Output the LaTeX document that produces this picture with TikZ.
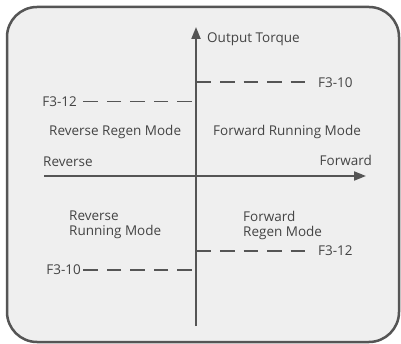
\documentclass[tikz,border=0pt]{standalone}
\usepackage{fontspec}
\setmainfont{Open Sans}
\usetikzlibrary{arrows.meta}
\definecolor{boxline}{HTML}{555555}
\definecolor{boxfill}{HTML}{EFEFEF}
\definecolor{txt}{HTML}{444444}
\begin{document}
\begin{tikzpicture}[x=1pt,y=-1pt,
  lbl/.style={text=txt,font=\fontsize{13.5}{15}\selectfont,inner sep=0pt},
  axis/.style={draw=boxline,line width=2pt,-{Triangle[length=12pt,width=9pt]}},
  dline/.style={draw=boxline,line width=1.8pt,dash pattern=on 14.5pt off 9pt}]
\useasboundingbox (0,0) rectangle (401,344);
\fill[white] (0,0) rectangle (401,344);
\draw[boxline,fill=boxfill,line width=2.5pt,rounded corners=30pt] (7,7) rectangle (399,342);
% axes
\coordinate (yb) at (196,326);
\coordinate (yt) at (196,27);
\coordinate (xl) at (44,176);
\coordinate (xr) at (366,176);
\draw[axis] (yb) -- (yt);
\draw[axis] (xl) -- (xr);
\node[lbl,anchor=base west] (ot) at (207,43) {Output Torque};
\node[lbl,anchor=base west] (rev) at (43,167) {Reverse};
\node[lbl,anchor=base east] (fwd) at (372,166) {Forward};
% quadrant labels
\node[lbl,anchor=base west] (rrm) at (49,136) {Reverse Regen Mode};
\node[lbl,anchor=base west] (frm) at (213,136) {Forward Running Mode};
\node[lbl,anchor=north west,align=left] (rrun) at (69,211) {Reverse\\Running Mode};
\node[lbl,anchor=north west,align=left] (freg) at (243,211) {Forward\\Regen Mode};
% limit labels
\node[lbl,anchor=base west] (f310a) at (318,87.5) {F3-10};
\node[lbl,anchor=base east] (f312a) at (77,106.5) {F3-12};
\node[lbl,anchor=base west] (f312b) at (318,256) {F3-12};
\node[lbl,anchor=base east] (f310b) at (81,275) {F3-10};
\coordinate (a1) at (196.7,82);
\coordinate (a2) at (191.7,101.5);
\coordinate (a3) at (196.7,251);
\coordinate (a4) at (191.7,270);
\coordinate (e1) at (305.2,82);
\coordinate (e2) at (82.7,101.5);
\coordinate (e3) at (305.2,251);
\coordinate (e4) at (82.7,270);
\draw[dline] (a1) -- (e1);
\draw[dline] (a2) -- (e2);
\draw[dline] (a3) -- (e3);
\draw[dline] (a4) -- (e4);
\end{tikzpicture}
\end{document}
